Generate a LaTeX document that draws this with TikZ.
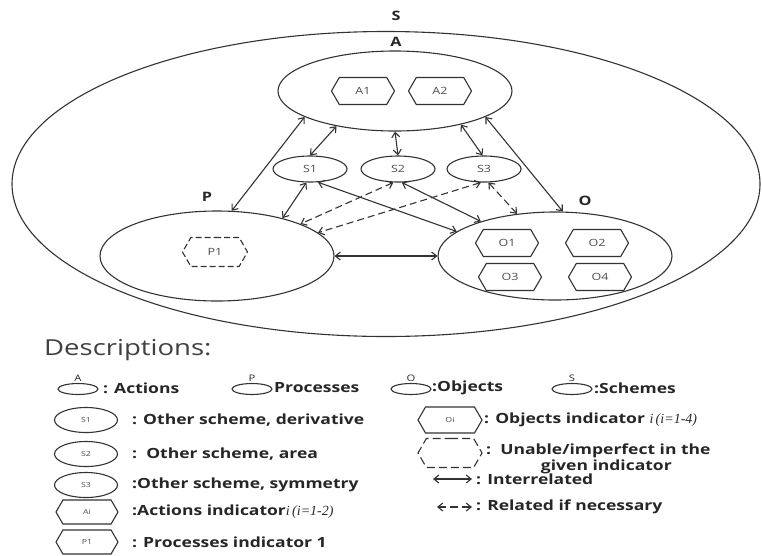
\documentclass[tikz,border=0pt]{standalone}
\usepackage{fontspec}
\setmainfont{Open Sans}[FakeStretch=1.25]
\newfontfamily\idxfont{Liberation Serif}
\usetikzlibrary{shapes.geometric,shapes.symbols,arrows.meta}

\tikzset{
  every node/.style={inner sep=0pt},
  ln/.style={draw=black!80, line width=1.1pt},
  ell/.style={ln, ellipse},
  hexa/.style={ln, signal, signal to=east and west, signal pointer angle=120,
    minimum width=63pt, minimum height=27pt, text=black!70,
    font=\fontsize{10}{10}\selectfont},
  scheme/.style={ell, minimum width=74pt, minimum height=26pt, text=black!70,
    font=\fontsize{10}{10}\selectfont},
  tag/.style={font=\bfseries\fontsize{13}{13}\selectfont, text=black!85},
  rel/.style={ln, {Straight Barb[length=5pt,width=8pt]}-{Straight Barb[length=5pt,width=8pt]}},
  relmaybe/.style={rel, dash pattern=on 7pt off 4pt},
  % legend
  mini/.style={ell, minimum width=40pt, minimum height=11pt},
  minitag/.style={font=\fontsize{9}{9}\selectfont, text=black!85},
  keyell/.style={ell, minimum width=63pt, minimum height=25pt, text=black!70,
    font=\fontsize{7}{7}\selectfont},
  keyhex/.style={hexa, minimum width=62pt, minimum height=24pt,
    font=\fontsize{7}{7}\selectfont},
  desc/.style={anchor=west, font=\bfseries\fontsize{14}{16}\selectfont, text=black!85},
}

\begin{document}
\begin{tikzpicture}[x=1pt, y=-1pt]
\useasboundingbox (0,0) rectangle (762,555);

% scheme S and its parts
\node[ell, minimum width=748pt, minimum height=305pt] (S) at (386,184) {};
\node[tag] (S-tag) at (396,16) {S};

\node[ell, minimum width=234pt, minimum height=80pt] (A) at (395,91) {};
\node[tag] (A-tag) at (396,42) {A};
\node[hexa] (A1) at (363,91) {A1};
\node[hexa] (A2) at (440,91) {A2};

\node[scheme] (S1) at (310,169) {S1};
\node[scheme] (S2) at (398,169) {S2};
\node[scheme] (S3) at (484,169) {S3};

\node[ell, minimum width=234pt, minimum height=90pt] (P) at (217,256) {};
\node[tag] (P-tag) at (207,197) {P};
\node[hexa, dashed, dash pattern=on 6pt off 3pt, minimum width=65pt, minimum height=29pt] (P1) at (215,252) {P1};

\node[ell, minimum width=234pt, minimum height=88pt] (O) at (555,256) {};
\node[tag] (O-tag) at (585,201) {O};
\node[hexa] (O1) at (507,243) {O1};
\node[hexa] (O2) at (597,243) {O2};
\node[hexa] (O3) at (510,277) {O3};
\node[hexa] (O4) at (600,277) {O4};

% relations
\draw[rel] (A.196) -- (P.72);
\draw[rel] (A.344) -- (O.80);
\draw[rel] (A.211) -- (S1.90);
\draw[rel] (A.south) -- (S2.north);
\draw[rel] (A.333) -- (S3.96);
\draw[rel] (S1.255) -- (P.30);
\draw[rel] (S1.301) -- (O.166);
\draw[rel] (S2.286) -- (O.155);
\draw[relmaybe] (S2.251) -- (P.21);
\draw[relmaybe] (S3.257) -- (P.13);
\draw[relmaybe] (S3.288) -- (O.132);
\draw[rel] (P) -- (O);

% descriptions
\node[anchor=west, font=\fontsize{22}{22}\selectfont, text=black!75] (desc-title) at (44,350) {Descriptions:};

\node[mini, label={[minitag, label distance=1pt]above:A}] (kA) at (78,389) {};
\node[desc] at (103,388) {: Actions};
\node[mini, label={[minitag, label distance=1pt]above:P}] (kP) at (252,389) {};
\node[desc] at (274,388) {Processes};
\node[mini, label={[minitag, label distance=1pt]above:O}] (kO) at (411,389) {};
\node[desc] at (432,388) {:Objects};
\node[mini, label={[minitag, label distance=1pt]above:S}] (kS) at (572,389) {};
\node[desc] at (594,388) {:Schemes};

\node[keyell] (kS1) at (86,420) {S1};
\node[desc] at (132,420) {: Other scheme, derivative};
\node[keyell] (kS2) at (86,454) {S2};
\node[desc] at (132,454) {:\ \ Other scheme, area};
\node[keyell] (kS3) at (86,485) {S3};
\node[desc] at (132,485) {:Other scheme, symmetry};
\node[keyhex] (kAi) at (87,512) {Ai};
\node[desc] at (132,512) {:Actions indicator{\mdseries\idxfont\itshape i\,(i=1-2)}};
\node[keyhex] (kP1) at (87,542) {P1};
\node[desc] at (132,542) {: Processes indicator 1};

\node[keyhex, minimum width=64pt, minimum height=26pt] (kOi) at (450,420) {Oi};
\node[desc] at (484,420) {: Objects indicator {\mdseries\idxfont\itshape i\,(i=1-4)}};
\node[keyhex, dashed, dash pattern=on 8pt off 4pt, minimum width=64pt, minimum height=29pt] (kdash) at (450,453) {};
\node[desc, align=center] at (486,459) {:\ \ Unable/imperfect in the\\\hspace*{16pt}given indicator};

\coordinate (i1) at (433,479);
\coordinate (i2) at (472,479);
\draw[rel] (i1) -- (i2);
\node[desc] at (476,479) {: Interrelated};
\coordinate (r1) at (437,507);
\coordinate (r2) at (472,507);
\draw[relmaybe, dash pattern=on 8pt off 4pt] (r1) -- (r2);
\node[desc] at (476,507) {: Related if necessary};
\end{tikzpicture}
\end{document}
